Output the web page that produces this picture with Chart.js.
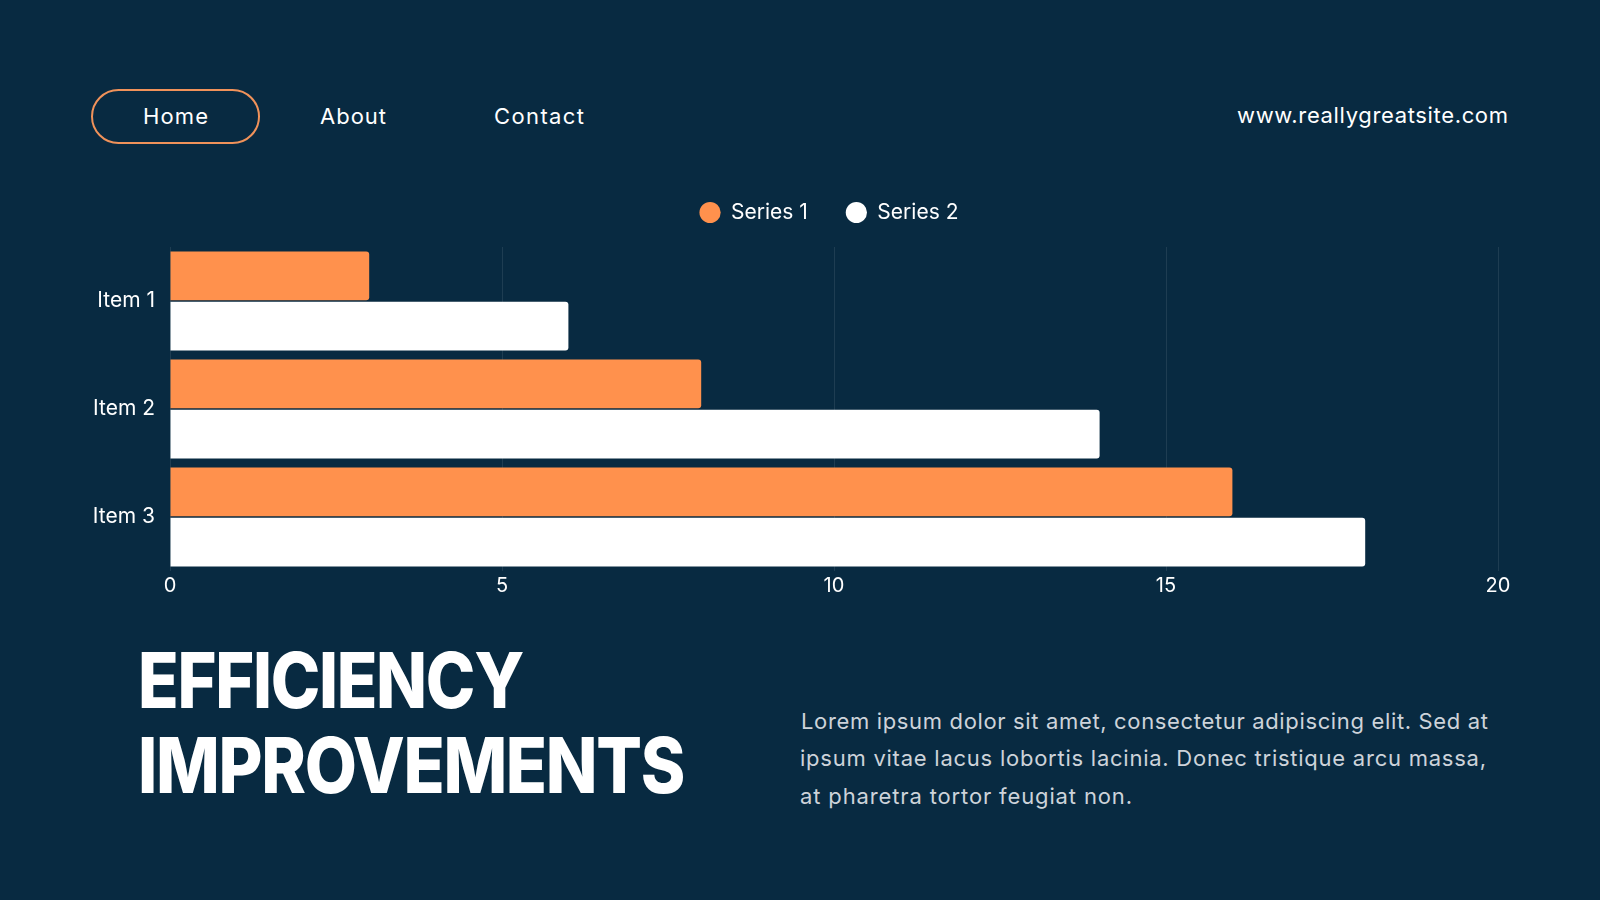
<!DOCTYPE html>
<html>
<head>
<meta charset="utf-8">
<script src="https://cdn.jsdelivr.net/npm/chart.js@4.4.1/dist/chart.umd.min.js"></script>
<style>
  html, body { margin:0; padding:0; width:1600px; height:900px; overflow:hidden; background:#082a41; font-family:Inter, "Noto Sans", sans-serif; color:#fff; }
  .t { position:absolute; white-space:nowrap; line-height:1; }
  .nav { font-size:22px; font-weight:400; }
  .pill { position:absolute; left:91px; top:89px; width:169px; height:55px; box-sizing:border-box; border:2px solid #f0925a; border-radius:28px; }
  .title { font-size:77px; font-weight:800; transform-origin:0 0; }
  .para { font-size:22px; font-weight:400; color:#cdd3da; }
  #wrap { position:absolute; left:40px; top:164px; width:1500px; height:437px; }
</style>
</head>
<body>
<div class="pill"></div>
<div class="t nav" style="left:143px; top:105px;" data-w="65">Home</div>
<div class="t nav" style="left:320px; top:105px;" data-w="66">About</div>
<div class="t nav" style="left:494px; top:105px;" data-w="90">Contact</div>
<div class="t nav" style="left:1237px; top:104px;" data-w="271">www.reallygreatsite.com</div>

<div id="wrap"><canvas id="c"></canvas></div>

<div class="t title" style="left:138px; top:642px;" data-sw="385">EFFICIENCY</div>
<div class="t title" style="left:138px; top:727px;" data-sw="546">IMPROVEMENTS</div>

<div class="t para" style="left:801px; top:710px;" data-w="687">Lorem ipsum dolor sit amet, consectetur adipiscing elit. Sed at</div>
<div class="t para" style="left:800px; top:747px;" data-w="686">ipsum vitae lacus lobortis lacinia. Donec tristique arcu massa,</div>
<div class="t para" style="left:800px; top:785px;" data-w="332">at pharetra tortor feugiat non.</div>

<script>
// ---- data ----
const categories = ["Item 1", "Item 2", "Item 3"];
const series1 = [3, 8, 16];
const series2 = [6, 14, 18];
const seriesNames = ["Series 1", "Series 2"];
const xTicks = [0, 5, 10, 15, 20];

// ---- fit text widths ----
document.querySelectorAll('[data-w]').forEach(el => {
  const target = parseFloat(el.dataset.w);
  el.style.letterSpacing = '0px';
  const w = el.getBoundingClientRect().width;
  const n = el.textContent.length;
  if (n > 1) el.style.letterSpacing = ((target - w) / (n - 1)) + 'px';
});
document.querySelectorAll('[data-sw]').forEach(el => {
  const target = parseFloat(el.dataset.sw);
  el.style.letterSpacing = '-1.5px';
  const w = el.getBoundingClientRect().width;
  el.style.transform = 'scaleX(' + (target / w) + ')';
});

const ORANGE = '#ff914d';
const WHITE = '#ffffff';

const legendGap = {
  id: 'legendGap',
  beforeLayout(chart) {
    const lg = chart.legend;
    if (lg && !lg._gapPatched) {
      const orig = lg.fit.bind(lg);
      lg.fit = function () { orig(); this.height += 14; };
      lg._gapPatched = true;
    }
  },
  afterLayout(chart) {
    const lg = chart.legend;
    if (lg) { lg.left -= 5; lg.right -= 5; }
  }
};

new Chart(document.getElementById('c'), {
  type: 'bar',
  data: {
    labels: categories,
    datasets: [
      { label: seriesNames[0], data: series1, backgroundColor: ORANGE, borderRadius: 3, borderSkipped: 'start',
        categoryPercentage: 0.93, barPercentage: 0.968 },
      { label: seriesNames[1], data: series2, backgroundColor: WHITE, borderRadius: 3, borderSkipped: 'start',
        categoryPercentage: 0.93, barPercentage: 0.968 }
    ]
  },
  options: {
    indexAxis: 'y',
    responsive: true,
    maintainAspectRatio: false,
    animation: false,
    layout: { padding: { left: 0, right: 42, top: 0, bottom: 0 } },
    plugins: {
      tooltip: { enabled: false },
      legend: {
        position: 'top',
        fullSize: false,
        labels: {
          color: '#ffffff',
          font: { family: 'Inter', size: 21 },
          usePointStyle: true,
          pointStyle: 'circle',
          boxWidth: 21,
          boxHeight: 15,
          padding: 38
        }
      }
    },
    scales: {
      x: {
        min: 0, max: 20,
        afterBuildTicks: (s) => { s.ticks = xTicks.map(v => ({ value: v })); },
        grid: { color: 'rgba(255,255,255,0.09)', lineWidth: 1, drawTicks: false },
        border: { display: false },
        ticks: { color: '#ffffff', font: { family: 'Inter', size: 20 }, padding: 3 }
      },
      y: {
        afterFit: (s) => { s.width = 130; },
        grid: { display: false, drawTicks: false },
        border: { display: false },
        ticks: { color: '#ffffff', font: { family: 'Inter', size: 21 }, padding: 15 }
      }
    }
  },
  plugins: [legendGap]
});
</script>
</body>
</html>
